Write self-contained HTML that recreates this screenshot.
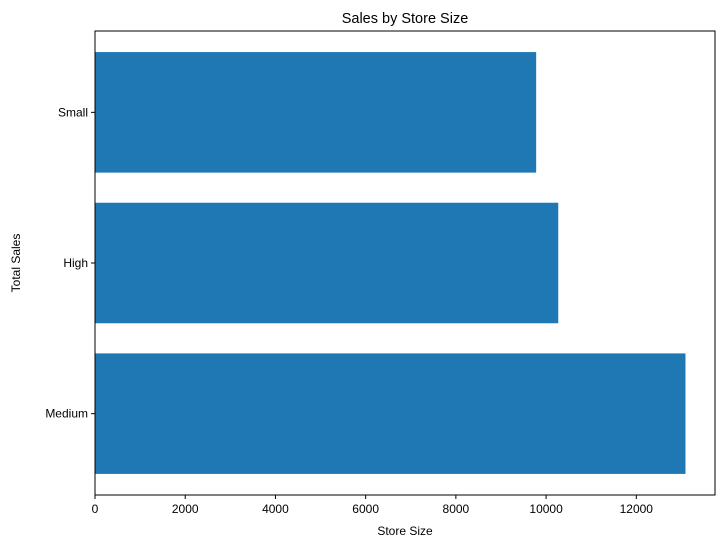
<!DOCTYPE html>
<html>
<head>
<meta charset="utf-8">
<style>
html,body{margin:0;padding:0;background:#fff;}
svg{display:block;font-family:"Liberation Sans","DejaVu Sans",sans-serif;}
</style>
</head>
<body>
<svg id="chart" width="724" height="547" viewBox="0 0 724 547">
  <rect x="0" y="0" width="724" height="547" fill="#fff"/>
  <text x="405" y="23" text-anchor="middle" font-size="14.5" fill="#000">Sales by Store Size</text>
  <g id="bars"></g>
  <g id="xticks"></g>
  <g id="yticks"></g>
  <rect x="95" y="31" width="620" height="464" fill="none" stroke="#000" stroke-width="1"/>
  <text x="405" y="535" text-anchor="middle" font-size="12">Store Size</text>
  <text x="20" y="263" text-anchor="middle" font-size="12" transform="rotate(-90 20 263)">Total Sales</text>
</svg>
<script>
const categories = ["Small", "High", "Medium"];
const sales = [9780, 10270, 13090];
const xTicks = [0, 2000, 4000, 6000, 8000, 10000, 12000];

const L = 95, R = 715, T = 31, B = 495;
const xMax = Math.max(...sales) * 1.05;
const xs = v => L + (v / xMax) * (R - L);
// categories placed top-to-bottom; index 0 at top
const yMin = -0.4 - 0.14, yMax = categories.length - 1 + 0.4 + 0.14;
const ys = i => T + ((i - yMin) / (yMax - yMin)) * (B - T);
const ns = "http://www.w3.org/2000/svg";

const barsG = document.getElementById('bars');
categories.forEach((c, i) => {
  const r = document.createElementNS(ns, 'rect');
  const y0 = ys(i - 0.4), y1 = ys(i + 0.4);
  r.setAttribute('x', xs(0));
  r.setAttribute('y', y0);
  r.setAttribute('width', xs(sales[i]) - xs(0));
  r.setAttribute('height', y1 - y0);
  r.setAttribute('fill', '#1f77b4');
  
  
  barsG.appendChild(r);
});

const yG = document.getElementById('yticks');
categories.forEach((c, i) => {
  const y = ys(i);
  const l = document.createElementNS(ns, 'line');
  l.setAttribute('x1', L - 4); l.setAttribute('x2', L);
  l.setAttribute('y1', y); l.setAttribute('y2', y);
  l.setAttribute('stroke', '#000');
  
  
  yG.appendChild(l);
  const t = document.createElementNS(ns, 'text');
  t.setAttribute('x', L - 7); t.setAttribute('y', y + 4);
  t.setAttribute('text-anchor', 'end'); t.setAttribute('font-size', '12');
  t.textContent = c;
  
  
  yG.appendChild(t);
});

const xG = document.getElementById('xticks');
xTicks.forEach(v => {
  const x = xs(v);
  const l = document.createElementNS(ns, 'line');
  l.setAttribute('x1', x); l.setAttribute('x2', x);
  l.setAttribute('y1', B); l.setAttribute('y2', B + 4);
  l.setAttribute('stroke', '#000');
  
  
  xG.appendChild(l);
  const t = document.createElementNS(ns, 'text');
  t.setAttribute('x', x); t.setAttribute('y', B + 18);
  t.setAttribute('text-anchor', 'middle'); t.setAttribute('font-size', '12');
  t.textContent = v;
  
  
  xG.appendChild(t);
});
</script>
</body>
</html>
